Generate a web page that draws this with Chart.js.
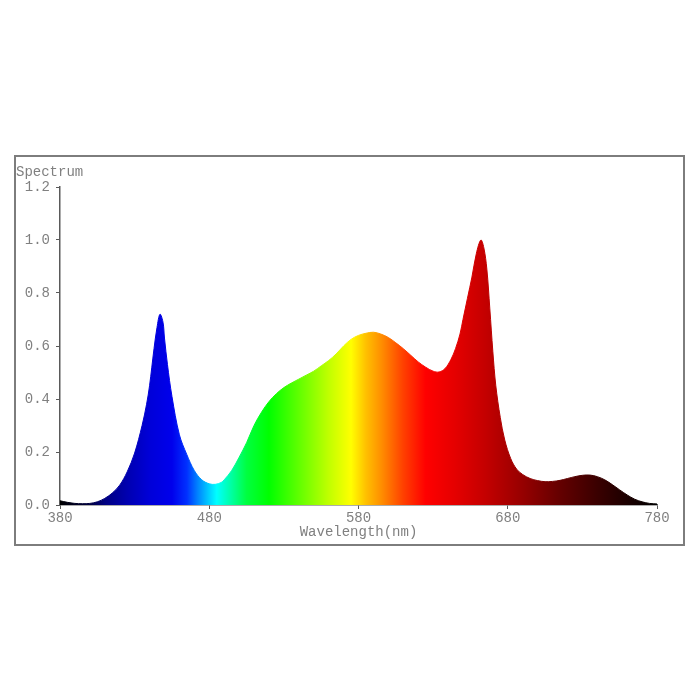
<!DOCTYPE html>
<html>
<head>
<meta charset="utf-8">
<script src="https://cdn.jsdelivr.net/npm/chart.js@4"></script>
<style>
  html, body { margin: 0; padding: 0; background: #fff; }
  body { width: 700px; height: 700px; position: relative; }
  .frame {
    position: absolute; left: 14px; top: 155px;
    width: 667px; height: 387px;
    border: 2px solid #7d7d7d;
  }
</style>
</head>
<body>
<div class="frame"><canvas id="spectrumChart"></canvas></div>
<script>
// Wavelength (nm) and relative intensity
const wavelengths = [
  380, 385, 390, 395, 400, 405, 410, 415, 420, 425, 430, 435, 438, 440, 443, 445, 447, 449, 450, 452,
  455, 460, 465, 470, 475, 480, 484, 488, 490, 495, 500, 505, 510, 515, 520, 525, 530, 535, 540, 545,
  550, 555, 560, 565, 570, 575, 580, 585, 590, 595, 600, 605, 610, 615, 620, 625, 630, 634, 638, 642,
  645, 648, 650, 653, 656, 659, 662, 664, 666, 668, 670, 672, 675, 678, 682, 686, 690, 695, 700, 705,
  710, 715, 720, 725, 730, 735, 740, 745, 750, 755, 760, 765, 770, 775, 780
];
const intensity = [
  0.016, 0.010, 0.006, 0.005, 0.006, 0.012, 0.025, 0.045, 0.075, 0.125, 0.196, 0.30, 0.38, 0.45, 0.59, 0.67, 0.72, 0.69, 0.63, 0.53,
  0.41, 0.265, 0.19, 0.13, 0.095, 0.08, 0.078, 0.085, 0.095, 0.13, 0.18, 0.235, 0.30, 0.35, 0.39, 0.42, 0.443, 0.46, 0.475, 0.49,
  0.505, 0.525, 0.545, 0.57, 0.60, 0.625, 0.64, 0.648, 0.652, 0.645, 0.632, 0.612, 0.59, 0.565, 0.54, 0.52, 0.505, 0.502, 0.515, 0.55,
  0.59, 0.645, 0.70, 0.78, 0.86, 0.95, 1.0, 0.97, 0.89, 0.74, 0.58, 0.45, 0.33, 0.245, 0.175, 0.135, 0.115, 0.10, 0.092, 0.088,
  0.089, 0.093, 0.10, 0.107, 0.112, 0.113, 0.107, 0.095, 0.077, 0.057, 0.038, 0.022, 0.012, 0.006, 0.004
];
const xTicks = [380, 480, 580, 680, 780];
const yTicks = [0, 0.2, 0.4, 0.6, 0.8, 1.0, 1.2];

// Spectral colour stops (nm, colour) for the fill
const colorStops = [
  [380, "#000000"], [400, "#000040"], [410, "#000080"], [425, "#0000b0"], [440, "#0000d8"],
  [455, "#0000ec"], [465, "#0030ff"], [472, "#0080ff"], [480, "#00d0ff"], [485, "#00ffff"],
  [495, "#00ffa0"], [505, "#00ff40"], [520, "#00ff00"], [540, "#60ff00"], [560, "#c0ff00"],
  [575, "#ffff00"], [585, "#ffc000"], [595, "#ff9000"], [610, "#ff4000"], [625, "#ff0000"],
  [645, "#e40000"], [665, "#c40000"], [690, "#960000"], [715, "#640000"], [740, "#3a0000"],
  [765, "#140000"], [780, "#000000"]
];

const monoFont = { family: "'Liberation Mono', 'Courier New', monospace", size: 14 };
const textColor = "#808080";
const axisColor = "#5a5a5a";

function spectrumGradient(context) {
  const chart = context.chart;
  const { ctx, chartArea, scales } = chart;
  if (!chartArea) return "#0000ff";
  const x0 = scales.x.getPixelForValue(380);
  const x1 = scales.x.getPixelForValue(780);
  const g = ctx.createLinearGradient(x0, 0, x1, 0);
  colorStops.forEach(([nm, c]) => g.addColorStop((nm - 380) / 400, c));
  return g;
}

// "Spectrum" label above the y axis
const cornerLabel = {
  id: "cornerLabel",
  afterDraw(chart) {
    const ctx = chart.ctx;
    ctx.save();
    ctx.font = `${monoFont.size}px ${monoFont.family}`;
    ctx.fillStyle = textColor;
    ctx.textBaseline = "middle";
    ctx.textAlign = "left";
    ctx.fillText("Spectrum", 0, 15);
    ctx.restore();
  },
};

new Chart(document.getElementById("spectrumChart"), {
  type: "line",
  data: {
    datasets: [
      {
        data: wavelengths.map((w, i) => ({ x: w, y: intensity[i] })),
        fill: "origin",
        backgroundColor: spectrumGradient,
        borderColor: spectrumGradient,
        borderWidth: 1,
        tension: 0.35,
        pointRadius: 0,
      },
    ],
  },
  options: {
    responsive: true,
    maintainAspectRatio: false,
    animation: false,
    layout: { padding: { top: 30, right: 26, left: 0, bottom: 0 } },
    plugins: { legend: { display: false }, tooltip: { enabled: false } },
    scales: {
      x: {
        type: "linear",
        min: 380,
        max: 780,
        afterBuildTicks: (scale) => { scale.ticks = xTicks.map((v) => ({ value: v })); },
        afterFit: (scale) => { scale.height = 39; },
        ticks: { color: textColor, font: monoFont, padding: 1, maxRotation: 0, autoSkip: false },
        grid: { drawOnChartArea: false, drawTicks: true, tickLength: 4, color: axisColor },
        border: { color: axisColor, width: 1.5 },
        title: { display: true, text: "Wavelength(nm)", color: textColor, font: monoFont, padding: { top: 0, bottom: 3 } },
      },
      y: {
        min: 0,
        max: 1.2,
        afterBuildTicks: (scale) => { scale.ticks = yTicks.map((v) => ({ value: v })); },
        afterFit: (scale) => { scale.width = 44; },
        ticks: { color: textColor, font: monoFont, padding: 6, callback: (v) => v.toFixed(1) },
        grid: { drawOnChartArea: false, drawTicks: true, tickLength: 4, color: axisColor },
        border: { color: axisColor, width: 1.5 },
      },
    },
  },
  plugins: [cornerLabel],
});
</script>
</body>
</html>
